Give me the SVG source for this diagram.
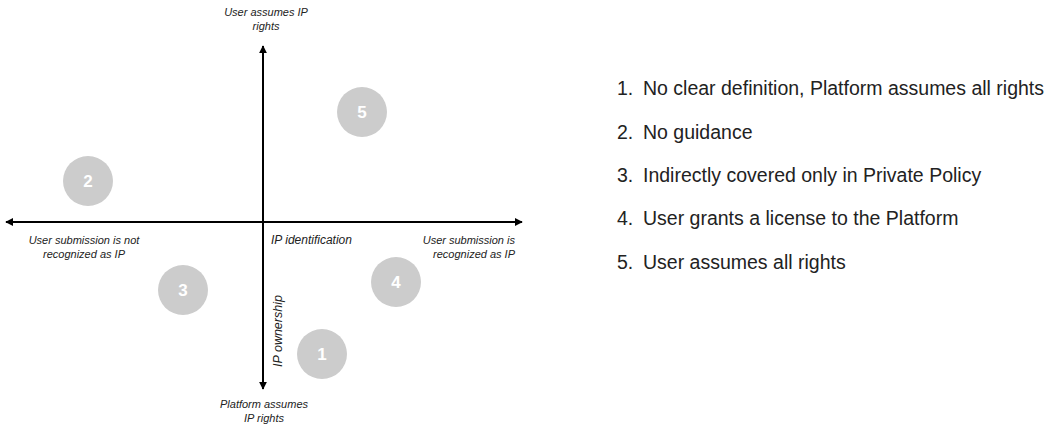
<svg xmlns="http://www.w3.org/2000/svg" width="1054" height="426" viewBox="0 0 1054 426">
<style>
.lbl{font-family:"Liberation Sans",Arial,sans-serif;font-size:11px;font-style:italic;fill:#222}
.num{font-family:"Liberation Sans",Arial,sans-serif;font-size:17px;font-weight:bold;fill:#fff;text-anchor:middle}
.item{font-family:"Liberation Sans",Arial,sans-serif;font-size:19.5px;fill:#222}
.dot{fill:#cccccc}
.axis{stroke:#000;stroke-width:2;fill:none}
</style>
<defs>
<marker id="ah" viewBox="0 0 10 10" refX="9" refY="5" markerWidth="4" markerHeight="4" orient="auto" markerUnits="strokeWidth">
<path d="M0,0 L10,5 L0,10 z" fill="#000"/>
</marker>
</defs>
<g id="connectors">
<line class="axis" x1="263" y1="222" x2="263" y2="46" marker-end="url(#ah)"/>
<line class="axis" x1="263" y1="222" x2="263" y2="389" marker-end="url(#ah)"/>
<line class="axis" x1="263" y1="222" x2="6" y2="222" marker-end="url(#ah)"/>
<line class="axis" x1="263" y1="222" x2="522" y2="222" marker-end="url(#ah)"/>
</g>
<g id="axis-labels">
<text class="lbl" x="266" y="16" text-anchor="middle">User assumes IP</text>
<text class="lbl" x="266" y="30" text-anchor="middle">rights</text>
<text class="lbl" x="84" y="244" text-anchor="middle">User submission is not</text>
<text class="lbl" x="84" y="258" text-anchor="middle">recognized as IP</text>
<text class="lbl" x="271" y="244" style="font-size:12px">IP identification</text>
<text class="lbl" x="515" y="244" text-anchor="end">User submission is</text>
<text class="lbl" x="515" y="258" text-anchor="end">recognized as IP</text>
<text class="lbl" transform="translate(282,331) rotate(-90)" text-anchor="middle" style="font-size:12.5px">IP ownership</text>
<text class="lbl" x="264" y="408" text-anchor="middle">Platform assumes</text>
<text class="lbl" x="264" y="422" text-anchor="middle">IP rights</text>
</g>
<g id="node-1"><circle class="dot" cx="322" cy="354" r="25"/><text class="num" x="322" y="360">1</text></g>
<g id="node-2"><circle class="dot" cx="88" cy="181" r="25"/><text class="num" x="88" y="187">2</text></g>
<g id="node-3"><circle class="dot" cx="183" cy="290" r="25"/><text class="num" x="183" y="296">3</text></g>
<g id="node-4"><circle class="dot" cx="396" cy="282" r="25"/><text class="num" x="396" y="288">4</text></g>
<g id="node-5"><circle class="dot" cx="362" cy="112" r="25"/><text class="num" x="362" y="118">5</text></g>
<g id="legend">
<text class="item" x="617" y="95">1.</text><text class="item" x="643" y="95">No clear definition, Platform assumes all rights</text>
<text class="item" x="617" y="139">2.</text><text class="item" x="643" y="139">No guidance</text>
<text class="item" x="617" y="182">3.</text><text class="item" x="643" y="182">Indirectly covered only in Private Policy</text>
<text class="item" x="617" y="225">4.</text><text class="item" x="643" y="225">User grants a license to the Platform</text>
<text class="item" x="617" y="269">5.</text><text class="item" x="643" y="269">User assumes all rights</text>
</g>
</svg>
